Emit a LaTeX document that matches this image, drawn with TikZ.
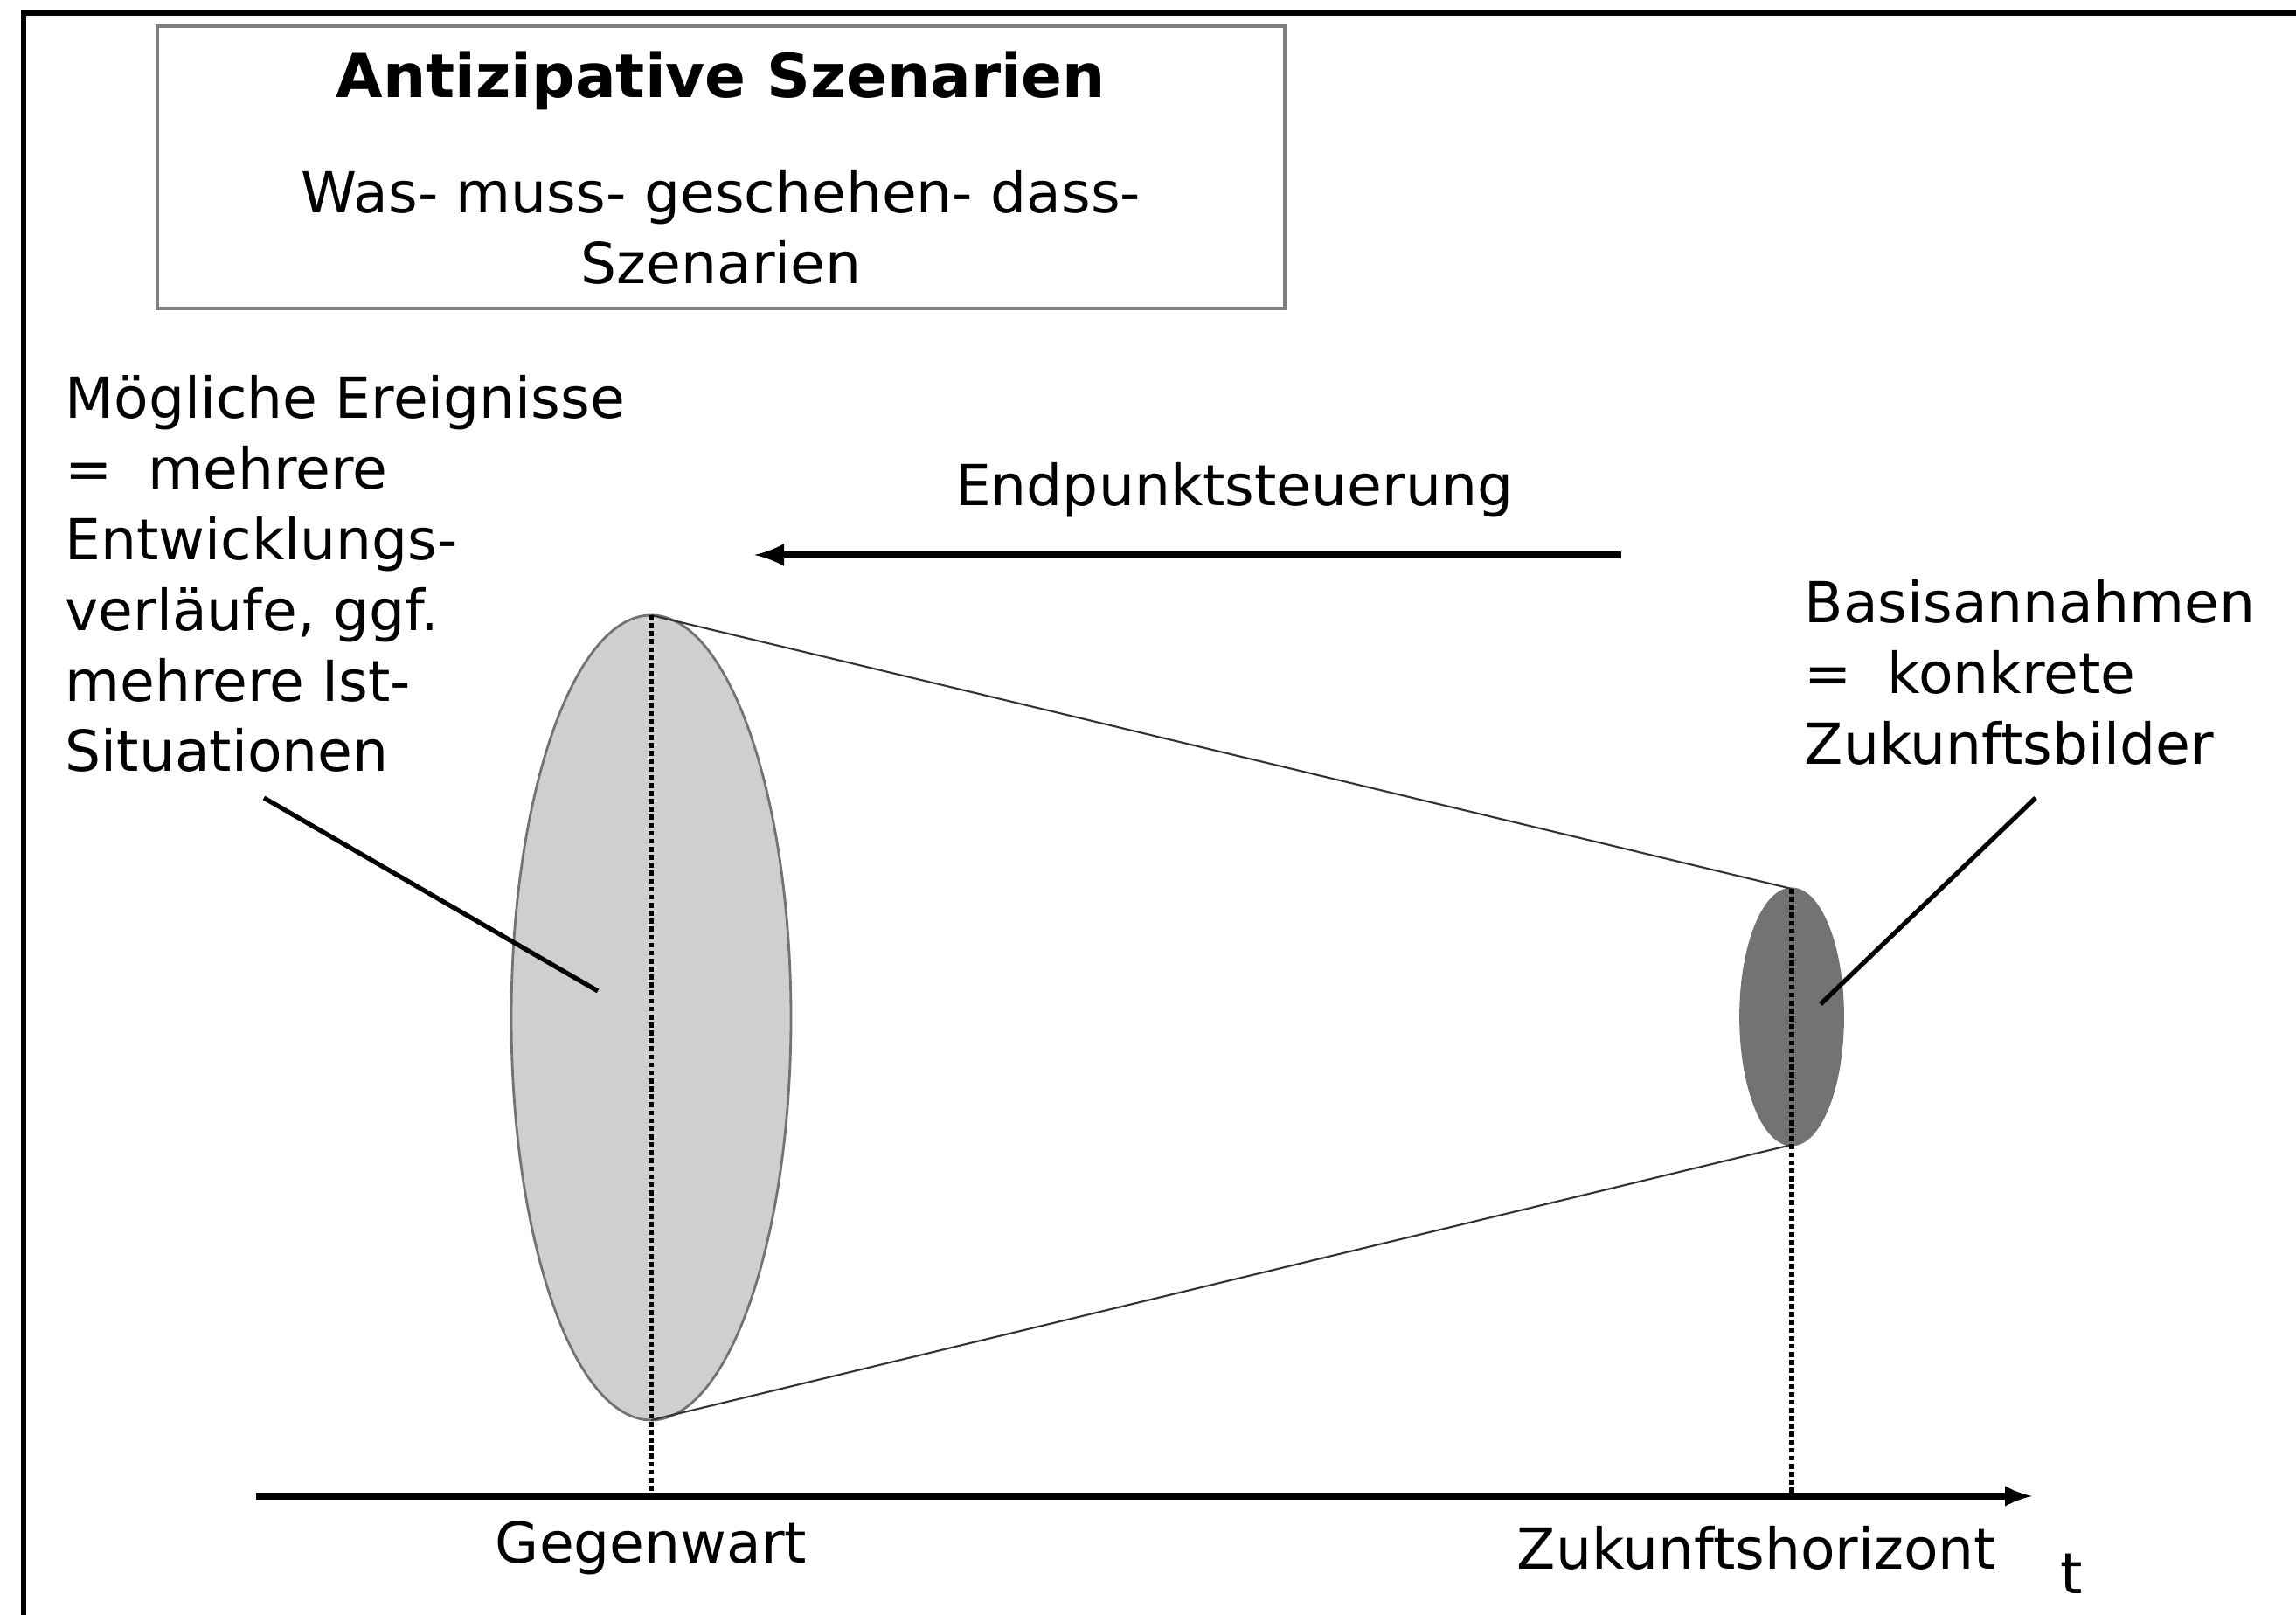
\documentclass[tikz,border=0pt]{standalone}
\usepackage{fontspec}
\setmainfont{DejaVu Sans}
\usepackage{tikz}
\usetikzlibrary{arrows,calc,shapes.geometric}
\usetikzlibrary{positioning}

\tikzset{
  txt/.style={inner sep=0pt, font=\fontsize{18.4}{23}\selectfont, align=left},
  zone/.style={ellipse, draw=black!55, line width=0.8pt, inner sep=0pt, outer sep=0pt},
  cone/.style={draw=black!80, line width=0.6pt},
  guide/.style={densely dotted, line width=1.6pt},
  pointer/.style={line width=1.5pt}
}

\begin{document}
\begin{tikzpicture}
                \useasboundingbox (0,0) rectangle (26.27,18.48);
                \draw[line width=1.5pt] (0.27,0) -- (0.27,18.33) -- (26.27,18.33);
                \node[draw=black!50, line width=1.2pt, minimum width=12.9cm, minimum height=3.23cm] (titlebox) at (8.25,16.565) {};
                \node[inner sep=0pt, font=\fontsize{19.7}{24}\bfseries\selectfont] (title) at (8.25,17.56) {Antizipative Szenarien};
                \node[txt, align=center] (subtitle) at (8.25,15.88) {Was- muss- geschehen- dass-\\Szenarien};
                \node[txt, anchor=north west] (ereignisse) at (0.74,14.19) {Mögliche Ereignisse\\= \ mehrere\\Entwicklungs-\\verläufe, ggf.\\mehrere Ist-\\Situationen};
                \node[txt] (steuerung) at (14.12,12.87) {Endpunktsteuerung};
                \node[txt, anchor=north west] (basis) at (20.64,11.85) {Basisannahmen\\= \ konkrete\\Zukunftsbilder};
                \node[zone, fill=black!19, minimum width=3.2cm, minimum height=9.21cm] (gegen) at (7.45,6.835) {};
                \node[zone, fill=black!55, minimum width=1.17cm, minimum height=2.93cm] (horiz) at (20.5,6.845) {};
                \coordinate (axstart) at (2.93,1.36);
                \coordinate (axend) at (23.25,1.36);
                \coordinate (arrstart) at (18.55,12.13);
                \coordinate (arrend) at (8.63,12.13);
                \draw[cone] (gegen.north) -- (horiz.north);
                \draw[cone] (gegen.south) -- (horiz.south);
                \draw[guide] (gegen.north) -- (gegen.north |- axstart);
                \draw[guide] (horiz.north) -- (horiz.north |- axstart);
                \draw[line width=2pt, -latex] (axstart) -- (axend);
                \draw[line width=2.3pt, -latex] (arrstart) -- (arrend);
                \coordinate (p1) at (3.02,9.35);
                \coordinate (p2) at (6.84,7.14);
                \coordinate (q1) at (23.29,9.35);
                \coordinate (q2) at (20.83,6.99);
                \draw[pointer] (p1) -- (p2);
                \draw[pointer] (q1) -- (q2);
                \node[txt] (jetzt) at (7.45,0.77) {Gegenwart};
                \node[txt] (zukunft) at (20.10,0.77) {Zukunftshorizont};
                \node[txt] (t) at (23.70,0.47) {t};
            \end{tikzpicture}
\end{document}
